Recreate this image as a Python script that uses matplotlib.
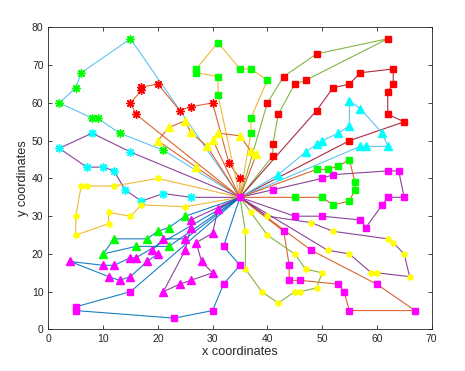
import matplotlib
matplotlib.use('Agg')
import matplotlib.pyplot as plt

plt.rcParams['font.family'] = ['Liberation Sans', 'DejaVu Sans']

# depot, every route starts and ends here
depot = (35, 35)

# customers of each route, in visiting order
route_1 = [(15, 77), (6, 68), (5, 64), (2, 60), (8, 56), (9, 56), (13, 52), (21, 47.5)]
route_2 = [(16, 57), (15, 60), (17, 63.3), (17, 64.2), (20, 65), (24, 58), (26, 59), (30, 60), (33, 44), (35, 40)]
route_3 = [(31, 62), (31, 67), (27, 68), (27, 69), (31, 76), (35, 69), (37, 69), (40, 66), (37, 56), (37, 52)]
route_4 = [(40, 60), (43, 67), (49, 73), (62, 77), (47, 66), (45, 65), (42, 57), (41, 49), (41, 46)]
route_5 = [(49, 58), (52, 64), (55, 65), (57, 68), (63, 69), (63, 65), (62, 63), (62, 57), (65, 55), (55, 50)]
route_6 = [(42, 41), (47, 47), (49, 49), (50, 50), (53, 52), (55, 54), (55, 60.5), (57, 58.5), (61, 52), (62, 48.5), (58, 48.5), (57, 48.5)]
route_7 = [(15, 47), (8, 52), (2, 48), (7, 43), (10, 43), (12, 42), (14, 37), (17, 34), (21, 36), (26, 35)]
route_8 = [(20, 40), (12, 38), (7, 38), (6, 38), (5, 30), (5, 25), (11, 28), (11, 31), (15, 30), (17, 33), (25, 32.5)]
route_9 = [(25, 30), (22, 27), (20, 26), (18, 24), (12, 24), (10, 20), (16, 22), (22, 22)]
route_10 = [(31, 32), (30, 25.5), (27, 23), (28, 18), (30, 15), (26, 13), (24, 12), (21, 10), (25, 21), (26, 27), (26, 29)]
route_11 = [(25, 24), (21, 24), (19, 21), (20, 20), (18, 18), (15, 14), (13, 13), (11, 14), (4, 18), (10, 17), (12, 17), (15, 19), (16, 19)]
route_12 = [(27, 43), (20, 50), (22, 53.5), (25, 55.3), (26, 52.2), (29, 48.5)]
route_13 = [(30, 50.3), (31, 52), (35, 51.3), (37, 47.2), (38, 46.4)]
route_14 = [(41, 37), (50, 40), (52, 41), (62, 42), (64, 42), (65, 35), (62, 35), (61, 33), (58, 27), (57, 29), (50, 30), (45, 30)]
route_15 = [(43, 26), (44, 17), (44, 13), (46, 13), (53, 12), (54, 10), (55, 5), (67, 5), (60, 12), (48, 21)]
route_16 = [(40, 30), (48, 28.3), (52, 26), (62, 24), (63, 23), (65, 20), (66, 14), (60, 15), (59, 15), (55, 20), (51, 21)]
route_17 = [(37, 31), (40, 25), (45, 20), (47, 16), (50, 15), (49, 11), (46, 10), (45, 10), (42, 7), (39, 10), (36, 16), (36, 26)]
route_18 = [(45, 35), (50, 35), (52, 33), (55, 34), (56, 37), (56, 39), (55, 45), (53, 43.3), (51, 42.4), (49, 42.4)]
route_19 = [(32, 22), (35, 17), (32, 12), (30, 5), (23, 3), (5, 5), (5, 6), (15, 10)]

routes = [route_1, route_2, route_3, route_4, route_5, route_6, route_7, route_8, route_9, route_10,
          route_11, route_12, route_13, route_14, route_15, route_16, route_17, route_18, route_19]

# matlab line colours
blue, orange, yellow, purple = '#0072BD', '#D95319', '#EDB120', '#7E2F8E'
green, lblue, dred = '#77AC30', '#4DBEEE', '#A2142F'

line_colors = [lblue, orange, yellow, green, dred, lblue, purple, yellow, blue, purple,
               blue, orange, orange, purple, orange, purple, green, orange, blue]
markers = ['ast', 'ast', 's', 's', 's', '^', 'ast', 'h', '^', '^',
           '^', '^', '^', 's', 's', 'h', 'h', 's', 's']
marker_colors = ['#00FF00', '#FF0000', '#00FF00', '#FF0000', '#FF0000', '#00FFFF', '#00FFFF', '#FFFF00', '#00FF00', '#FF00FF',
                 '#FF00FF', '#FFFF00', '#FFFF00', '#FF00FF', '#FF00FF', '#FFFF00', '#FFFF00', '#00FF00', '#FF00FF']

fig = plt.figure(figsize=(4.65, 3.71), dpi=100)
ax = fig.add_axes([0.104, 0.112, 0.824, 0.814])

for pts, lc, mk, mc in zip(routes, line_colors, markers, marker_colors):
    xs = [depot[0]] + [p[0] for p in pts] + [depot[0]]
    ys = [depot[1]] + [p[1] for p in pts] + [depot[1]]
    ax.plot(xs, ys, color=lc, lw=0.8, alpha=0.9, zorder=1)
    cx = [p[0] for p in pts]
    cy = [p[1] for p in pts]
    if mk == 'ast':
        ax.plot(cx, cy, ls='none', marker=(8, 2, 0), ms=6, mec=mc, mew=1.0, zorder=2)
    elif mk == 's':
        ax.plot(cx, cy, ls='none', marker='s', ms=4.6, mfc=mc, mec=mc, zorder=2)
    elif mk == '^':
        ax.plot(cx, cy, ls='none', marker='^', ms=5.3, mfc=mc, mec=mc, zorder=2)
    else:
        ax.plot(cx, cy, ls='none', marker='h', ms=4.0, mfc=mc, mec=mc, zorder=2)

ax.plot(depot[0], depot[1], ls='none', marker='s', ms=5, mfc='#FF00FF', mec='#FF00FF', zorder=3)

ax.set_xlim(0, 70)
ax.set_ylim(0, 80)
ax.set_xticks(range(0, 71, 10))
ax.set_yticks(range(0, 81, 10))
ax.tick_params(direction='in', top=True, right=True, labelsize=7.5, length=3, width=0.6, colors='#262626')
for s in ax.spines.values():
    s.set_linewidth(0.6)
    s.set_color('#262626')
ax.set_xlabel('x coordinates', fontsize=9.2, labelpad=1, color='#262626')
ax.set_ylabel('y coordinates', fontsize=9.2, labelpad=2, color='#262626')

fig.savefig('out.png', dpi=100)
